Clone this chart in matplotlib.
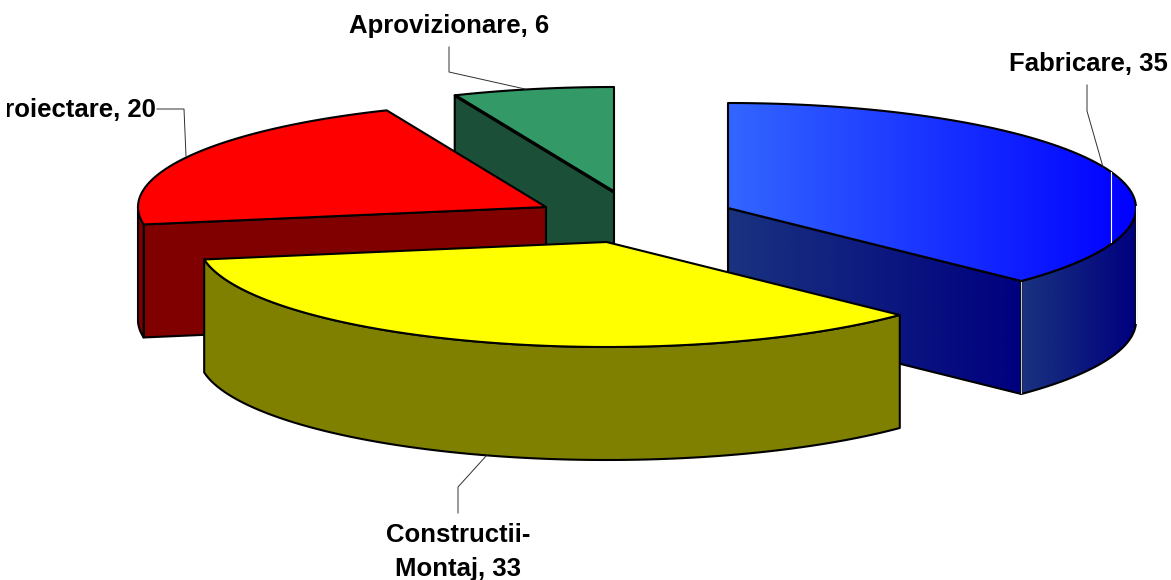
import numpy as np
import matplotlib
matplotlib.use("Agg")
import matplotlib.pyplot as plt
from matplotlib.colors import LinearSegmentedColormap
from matplotlib.patches import Polygon, Rectangle

names = ["Fabricare", "Constructii-\nMontaj", "Proiectare", "Aprovizionare"]
values = [35, 33, 20, 6]
top_colors = ["#3366ff", "#ffff00", "#ff0000", "#339966"]
side_colors = ["#1a337f", "#808000", "#800000", "#1c4f38"]

# exploded slice centres, in pixels of the picture
centres = [(728, 208), (606.5, 242), (546, 207), (614, 192)]
RX, RY, DEPTH = 408, 105, 113
LW = 1.5

edges = np.concatenate([[0], np.cumsum(values)]) / sum(values) * 2 * np.pi


def rim(c, a0, a1, n=80):
    t = np.linspace(a0, a1, n)
    return np.column_stack([c[0] + RX * np.sin(t), c[1] - RY * np.cos(t)])


def down(pts):
    return pts + [0, DEPTH]


fig = plt.figure(figsize=(11.71, 5.8), dpi=100)
ax = fig.add_axes([0, 0, 1, 1])


def face(pts, color, grad=None, z=1):
    if grad is None:
        ax.add_patch(Polygon(pts, closed=True, fc=color, ec="black", lw=LW, joinstyle="round", zorder=z))
        return
    cmap = LinearSegmentedColormap.from_list("g", grad)
    poly = Polygon(pts, closed=True, fc="none", ec="black", lw=LW, joinstyle="round", zorder=z + 0.1)
    ax.add_patch(poly)
    x0, x1 = pts[:, 0].min(), pts[:, 0].max()
    y0, y1 = pts[:, 1].min(), pts[:, 1].max()
    im = ax.imshow(np.linspace(0, 1, 256)[None, :], cmap=cmap, extent=[x0, x1, y1, y0],
                   aspect="auto", zorder=z, interpolation="bilinear")
    im.set_clip_path(poly)


def radial_face(c, a, color, grad=None, z=1):
    e = rim(c, a, a, 1)
    pts = np.array([c, e[0], down(e)[0], down(np.array([c]))[0]], dtype=float)
    face(pts, color, grad, z)


def top_face(c, a0, a1, color, grad=None, z=1):
    pts = np.vstack([[c], rim(c, a0, a1)])
    face(pts, color, grad, z)


def rim_face(c, a0, a1, color, grad=None, z=1):
    r = rim(c, a0, a1)
    pts = np.vstack([r, down(r)[::-1]])
    face(pts, color, grad, z)


blue_top = ["#3366ff", "#0000ff"]
blue_side = ["#1a337f", "#00007f"]

# back to front: green, red, blue, yellow
c = centres[3]
radial_face(c, edges[3], side_colors[3], z=1)
top_face(c, edges[3], edges[4], top_colors[3], z=1.2)
ax.plot(*np.vstack([c, rim(c, edges[3], edges[3], 1)]).T, color="black", lw=2.4,
        solid_capstyle="butt", zorder=1.5)

c = centres[2]
radial_face(c, edges[2], side_colors[2], z=2)
rim_face(c, edges[2], 1.5 * np.pi, side_colors[2], z=2)
top_face(c, edges[2], edges[3], top_colors[2], z=2.2)

c = centres[0]
radial_face(c, edges[1], side_colors[0], blue_side, z=3)
rim_face(c, 0.5 * np.pi, edges[1], side_colors[0], blue_side, z=3.2)
top_face(c, edges[0], edges[1], top_colors[0], blue_top, z=3.4)

c = centres[1]
rim_face(c, edges[1], edges[2], side_colors[1], z=4)
top_face(c, edges[1], edges[2], top_colors[1], z=4.2)

# thin white seams left in the blue slice
ax.plot([1111, 1111], [172, 242], color="white", lw=0.8, zorder=3.6)
ax.plot([1136, 1136], [206, 323], color="white", lw=0.8, zorder=3.6)
ax.plot([1021, 1021], [282, 393], color="#c8c8c8", lw=0.8, zorder=3.6)

# leader lines
leaders = [
    ([1087, 1087, 1103], [85, 111, 167]),
    ([458, 458, 487], [513, 487, 455]),
    ([157, 184, 186], [109, 109, 156]),
    ([449, 449, 525], [47, 72, 89]),
]
for lx, ly in leaders:
    ax.plot(lx, ly, color="#303030", lw=0.7, zorder=5)

label_pos = [(1168, 64, "right"), (458, 552, "center"), (156, 110, "right"), (449, 26, "center")]
for name, val, (tx, ty, ha) in zip(names, values, label_pos):
    t = ax.text(tx, ty, f"{name}, {val}", ha=ha, va="center", family="Liberation Sans",
                fontweight="bold", fontsize=18.5, linespacing=1.52, zorder=6)
    if name == "Proiectare":
        # the original label is cut off on its left side
        t.set_clip_on(True)
        t.set_clip_path(Rectangle((7, 85), 200, 50, transform=ax.transData))

ax.set_xlim(0, 1171)
ax.set_ylim(580, 0)
ax.axis("off")
fig.savefig("out.png", dpi=100, facecolor="white")
